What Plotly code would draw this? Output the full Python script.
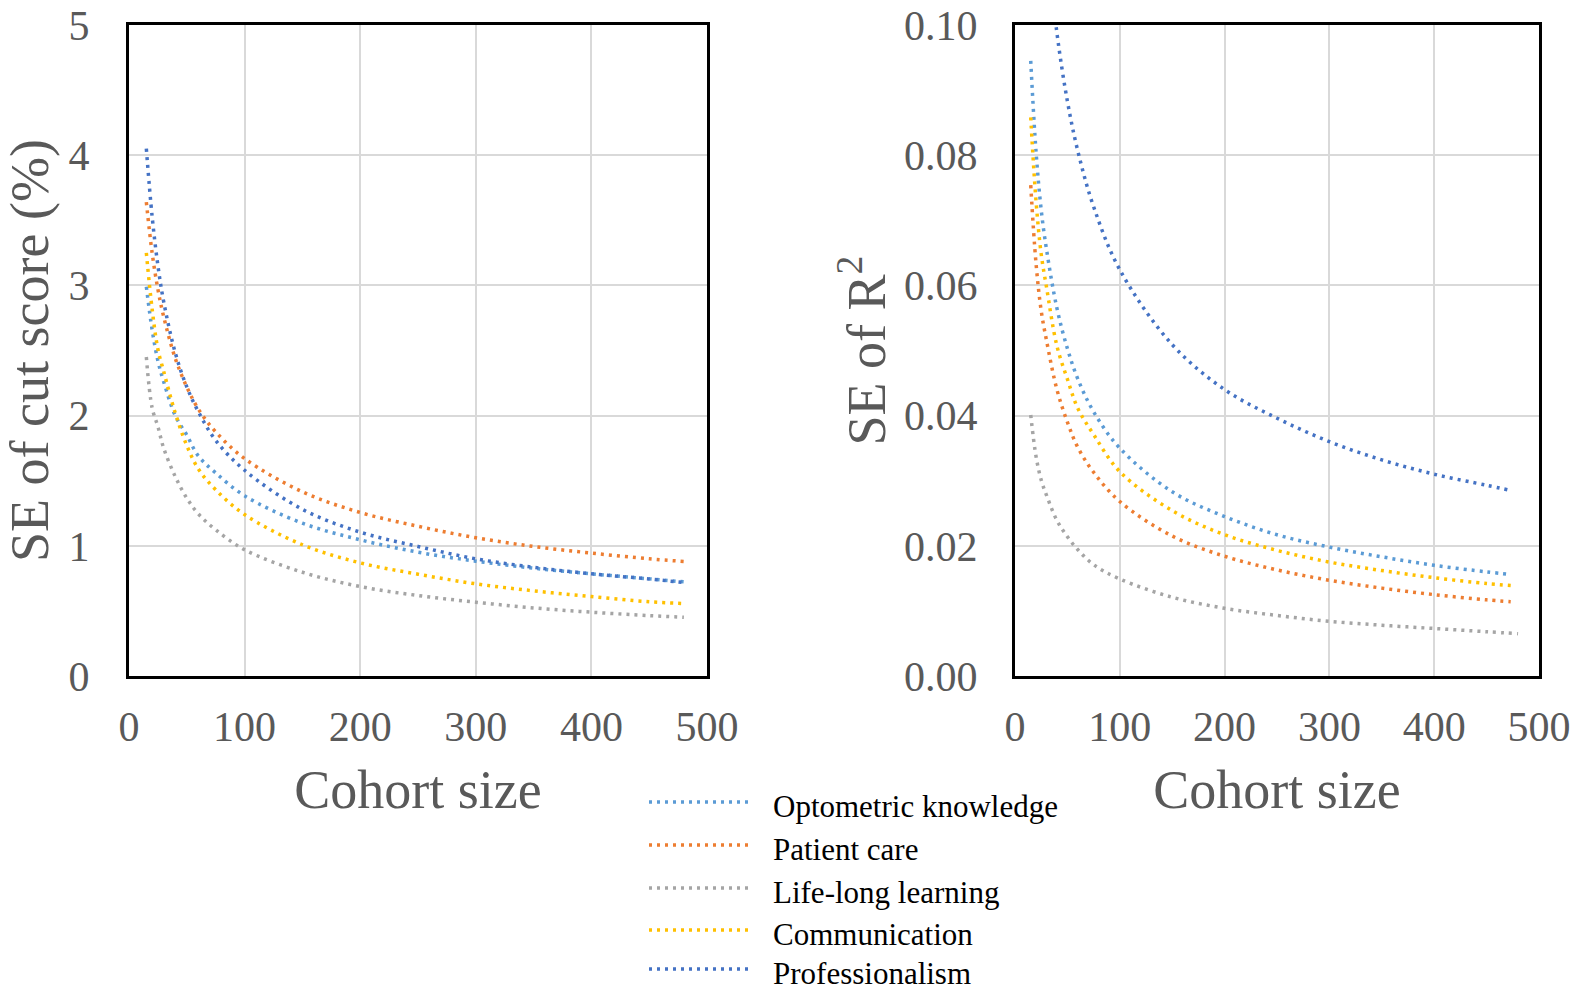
import plotly.graph_objects as go

# ---------------- data ----------------
series_names = ["Optometric knowledge", "Patient care", "Life-long learning",
                "Communication", "Professionalism"]
series_colors = ["#5B9BD5", "#ED7D31", "#A5A5A5", "#FFC000", "#4472C4"]

cohort_left = [15, 20, 25, 30, 40, 50, 60, 75, 100, 150, 200, 250, 300, 350, 400, 450, 480]
cohort_right = [15, 20, 25, 30, 40, 50, 60, 75, 100, 150, 200, 250, 300, 350, 400, 450, 473]
cohort_right_lifelong = [15, 20, 25, 30, 40, 50, 60, 75, 100, 150, 200, 250, 300, 350, 400, 450, 480]

# SE of cut score (%)
se_cut_optometric = [2.99, 2.66, 2.42, 2.26, 2.00, 1.85, 1.69, 1.56, 1.384, 1.174, 1.046, 0.951, 0.882, 0.828, 0.785, 0.746, 0.723]
se_cut_patient = [3.64, 3.25, 2.97, 2.76, 2.44, 2.22, 2.05, 1.875, 1.67, 1.415, 1.256, 1.15, 1.062, 0.995, 0.944, 0.90, 0.88]
se_cut_lifelong = [2.45, 2.06, 1.916, 1.75, 1.532, 1.366, 1.245, 1.123, 0.97, 0.797, 0.687, 0.618, 0.567, 0.523, 0.49, 0.464, 0.451]
se_cut_communication = [3.25, 2.82, 2.51, 2.34, 2.02, 1.77, 1.59, 1.43, 1.24, 1.008, 0.869, 0.782, 0.708, 0.654, 0.61, 0.57, 0.557]
se_cut_professionalism = [4.05, 3.53, 3.153, 2.875, 2.483, 2.22, 2.03, 1.81, 1.58, 1.28, 1.105, 0.995, 0.90, 0.835, 0.785, 0.745, 0.718]

# SE of R^2
se_r2_optometric = [0.0945, 0.0807, 0.0716, 0.0656, 0.0565, 0.0503, 0.0456, 0.0406, 0.0350, 0.0283, 0.0245, 0.0217, 0.0198, 0.0183, 0.0170, 0.0160, 0.0156]
se_r2_patient = [0.0754, 0.0635, 0.0561, 0.0516, 0.0440, 0.0390, 0.0351, 0.0313, 0.0268, 0.0215, 0.0184, 0.0163, 0.0147, 0.0135, 0.0125, 0.0117, 0.0114]
se_r2_lifelong = [0.0401, 0.0338, 0.0301, 0.0278, 0.0239, 0.0214, 0.0194, 0.0171, 0.0149, 0.0121, 0.0104, 0.0093, 0.0084, 0.0078, 0.0073, 0.0068, 0.0065]
se_r2_communication = [0.0858, 0.0731, 0.0648, 0.0598, 0.0507, 0.0456, 0.0411, 0.0371, 0.0314, 0.0254, 0.0217, 0.0193, 0.0175, 0.0162, 0.0151, 0.0142, 0.0139]
se_r2_professionalism = [0.161, 0.140, 0.125, 0.114, 0.0988, 0.0883, 0.0806, 0.0721, 0.0624, 0.0509, 0.0440, 0.0396, 0.0360, 0.0332, 0.0310, 0.0293, 0.0285]

left_series = [se_cut_optometric, se_cut_patient, se_cut_lifelong, se_cut_communication, se_cut_professionalism]
right_series = [se_r2_optometric, se_r2_patient, se_r2_lifelong, se_r2_communication, se_r2_professionalism]
right_x = [cohort_right, cohort_right, cohort_right_lifelong, cohort_right, cohort_right]

# ---------------- figure ----------------
W, H = 1585, 993
DASH = "3px,5px"
LW = 3.5
FONT = "Liberation Serif, Times New Roman, serif"
GRAY = "#595959"

fig = go.Figure()
for name, color, ys in zip(series_names, series_colors, left_series):
    fig.add_trace(go.Scatter(x=cohort_left, y=ys, mode="lines", name=name,
                             line=dict(color=color, width=LW, dash=DASH, shape="spline"),
                             showlegend=False, xaxis="x", yaxis="y"))
for name, color, xs, ys in zip(series_names, series_colors, right_x, right_series):
    fig.add_trace(go.Scatter(x=xs, y=ys, mode="lines", name=name,
                             line=dict(color=color, width=LW, dash=DASH, shape="spline"),
                             showlegend=False, xaxis="x2", yaxis="y2"))

def px_x(p):
    return p / W

def px_y(p):
    return 1 - p / H

axis_common = dict(showgrid=True, gridcolor="#D9D9D9", gridwidth=2, zeroline=False,
                   showline=True, linecolor="black", linewidth=3, mirror=True,
                   automargin=False, ticklabeloverflow="allow",
                   ticks="", tickfont=dict(family=FONT, size=42, color=GRAY))

y_dom = [px_y(676), px_y(25)]
fig.update_layout(
    width=W, height=H,
    margin=dict(l=0, r=0, t=0, b=0, autoexpand=False),
    paper_bgcolor="white", plot_bgcolor="white",
    font=dict(family=FONT),
    xaxis=dict(domain=[px_x(129), px_x(707)], range=[0, 500], dtick=100, anchor="y",
               ticklabelstandoff=12,
               title=dict(text="Cohort size", font=dict(family=FONT, size=54, color=GRAY), standoff=21),
               **axis_common),
    yaxis=dict(domain=y_dom, range=[0, 5], dtick=1, anchor="x",
               ticklabelstandoff=28,
               title=dict(text="SE of cut score (%)", font=dict(family=FONT, size=54, color=GRAY), standoff=10),
               **axis_common),
    xaxis2=dict(domain=[px_x(1015), px_x(1539)], range=[0, 500], dtick=100, anchor="y2",
                ticklabelstandoff=12,
                title=dict(text="Cohort size", font=dict(family=FONT, size=54, color=GRAY), standoff=21),
                **axis_common),
    yaxis2=dict(domain=y_dom, range=[0, 0.1], dtick=0.02, tickformat=".2f", anchor="x2",
                ticklabelstandoff=26,
                title=dict(text="SE of R<sup>2</sup>", font=dict(family=FONT, size=54, color=GRAY), standoff=2),
                **axis_common),
)

# custom legend (long dotted samples as in the original)
legend_y = [806, 849, 892, 934, 973]
for name, color, ly in zip(series_names, series_colors, legend_y):
    fig.add_shape(type="line", xref="paper", yref="paper",
                  x0=px_x(649), x1=px_x(753), y0=px_y(ly - 4), y1=px_y(ly - 4),
                  line=dict(color=color, width=LW, dash=DASH))
    fig.add_annotation(xref="paper", yref="paper", x=px_x(772), y=px_y(ly),
                       xanchor="left", yanchor="middle", showarrow=False,
                       borderpad=0,
                       text=name, font=dict(family=FONT, size=31, color="black"))

fig.write_html("out.html",
               config={"displayModeBar": False},
               post_script="document.body.style.margin='0px';document.body.style.overflow='hidden';")
